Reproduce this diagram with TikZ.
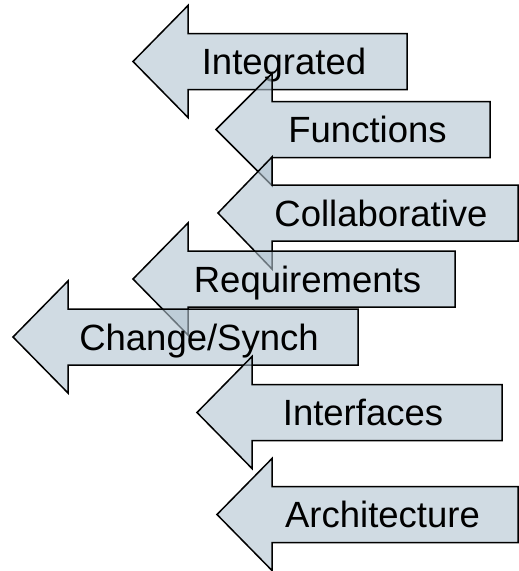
\documentclass[tikz,border=0pt]{standalone}
\usepackage{fontspec}
\setmainfont{Liberation Sans}
\definecolor{arrowfill}{RGB}{177,195,208}
\tikzset{
  blockarrow/.style={draw=black, line width=1.5pt, fill=arrowfill, fill opacity=0.6, line join=miter},
  arrowlabel/.style={anchor=base, inner sep=0pt, font=\fontsize{36.5}{40}\selectfont, text=black}
}
% #1 name, #2 tip x, #3 head-base x, #4 right x, #5 centre y, #6 text, #7 text x
\newcommand\blockarr[7]{%
  \draw[blockarrow] (#2,#5) -- (#3,#5-56) -- (#3,#5-28) -- (#4,#5-28) -- (#4,#5+28)
    -- (#3,#5+28) -- (#3,#5+56) -- cycle;
  \node[arrowlabel] (#1) at (#7,#5+13) {#6};
}
\begin{document}
\begin{tikzpicture}[x=1pt,y=-1pt]
\useasboundingbox (0,0) rectangle (519,571);
\blockarr{integrated}{133}{188}{407}{61.5}{Integrated}{284}
\blockarr{functions}{216}{272}{490}{129.5}{Functions}{367.5}
\blockarr{collab}{218}{272}{518}{213}{Collaborative}{381}
\blockarr{requirements}{133}{188}{455}{279}{Requirements}{307.5}
\blockarr{change}{13}{68}{358}{337}{Change/Synch}{199}
\blockarr{interfaces}{197}{252}{502}{412.5}{Interfaces}{363}
\blockarr{architecture}{217}{272}{518}{514.5}{Architecture}{382.5}
\end{tikzpicture}
\end{document}
